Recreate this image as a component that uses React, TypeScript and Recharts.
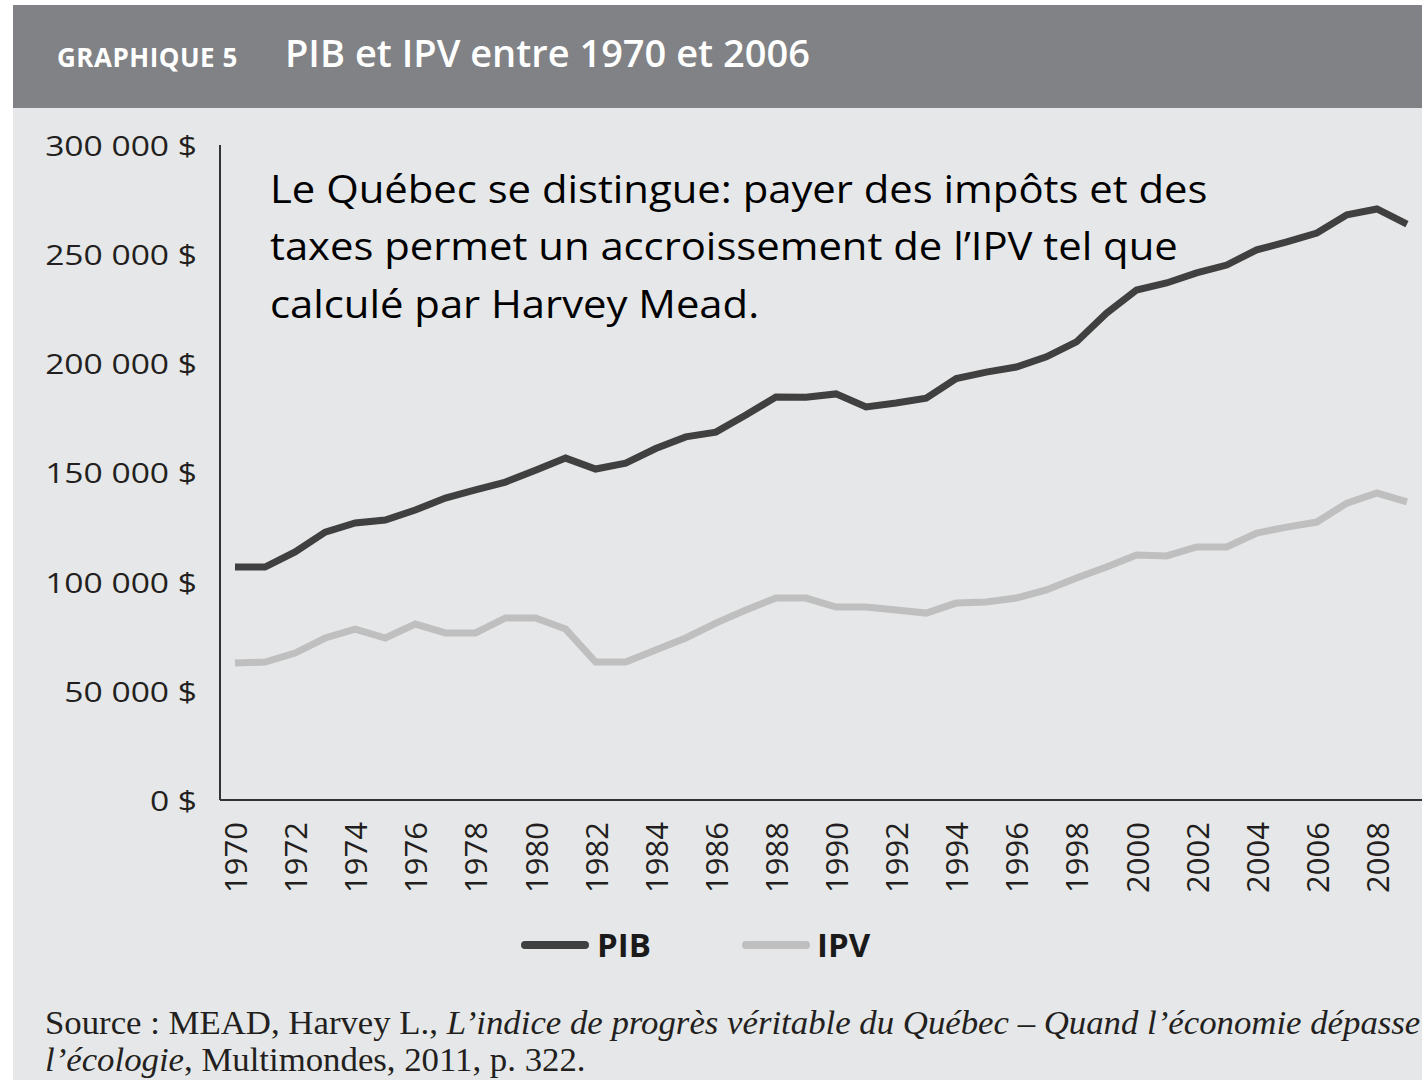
import React from 'react';
import { CartesianGrid, Line, LineChart, XAxis, YAxis } from 'recharts';

const years = [
  '1970', '1971', '1972', '1973', '1974', '1975', '1976', '1977', '1978', '1979',
  '1980', '1981', '1982', '1983', '1984', '1985', '1986', '1987', '1988', '1989',
  '1990', '1991', '1992', '1993', '1994', '1995', '1996', '1997', '1998', '1999',
  '2000', '2001', '2002', '2003', '2004', '2005', '2006', '2007', '2008', '2009'
];

const pib = [
  106700, 106700, 113600, 122700, 126900, 128200, 132800, 138300, 142000, 145600,
  151000, 156600, 151600, 154300, 161000, 166300, 168500, 176300, 184600, 184500,
  186000, 180000, 181800, 184000, 193000, 196000, 198300, 203000, 209800, 223000,
  233600, 236800, 241400, 245000, 252000, 255600, 259700, 268000, 270700, 263800
];

const ipv = [
  62700, 63200, 67300, 74200, 78300, 74200, 80600, 76500, 76500, 83400,
  83400, 78300, 63200, 63200, 68700, 74200, 81000, 87000, 92500, 92500,
  88400, 88400, 87000, 85600, 90200, 90700, 92500, 96200, 101700, 106700,
  112200, 111800, 115900, 115900, 122300, 125000, 127300, 136000, 140600, 136500
];

const yTicks = [0, 50000, 100000, 150000, 200000, 250000, 300000];

const data = years.map((year, i) => ({ year, PIB: pib[i], IPV: ipv[i] }));

const formatDollars = (v: number) => String(v).replace(/\B(?=(\d{3})+(?!\d))/g, ' ') + ' $';

const YTick = (props: any) => {
  const { x, y, payload } = props;
  return (
    <g transform={`translate(${x},${y}) scale(1.2,1)`}>
      <text x={0} y={0} textAnchor="end" dominantBaseline="central" fontSize={28} fill="#231f20" fontFamily="Open Sans">
        {formatDollars(payload.value)}
      </text>
    </g>
  );
};

const XTick = (props: any) => {
  const { x, y, payload } = props;
  return (
    <g transform={`translate(${x},${y}) rotate(-90)`}>
      <text x={0} y={0} textAnchor="end" dominantBaseline="central" fontSize={31} fill="#231f20" fontFamily="Open Sans">
        {payload.value}
      </text>
    </g>
  );
};

export default function App() {
  return (
    <div style={{ position: 'absolute', left: 0, top: 0, width: 1422, height: 1080, background: '#ffffff', overflow: 'hidden' }}>
      <svg width={1422} height={1080} style={{ position: 'absolute', left: 0, top: 0 }}>
        <rect x={13} y={5} width={1409} height={103} fill="#808285" />
        <rect x={13} y={108} width={1409} height={972} fill="#e6e7e8" />
        <text x={57} y={67} fontFamily="Open Sans" fontWeight={700} fontSize={26} fill="#ffffff" letterSpacing={0.5}>
          GRAPHIQUE 5
        </text>
        <text x={285} y={67} fontFamily="Open Sans" fontWeight={600} fontSize={38} fill="#ffffff">
          PIB et IPV entre 1970 et 2006
        </text>

        <g transform="translate(270,0) scale(1.1,1)" fontFamily="Open Sans" fontSize={38} fill="#000000">
          <text x={0} y={203}>Le Québec se distingue: payer des impôts et des</text>
          <text x={0} y={260}>taxes permet un accroissement de l’IPV tel que</text>
          <text x={0} y={318}>calculé par Harvey Mead.</text>
        </g>

        <line x1={525} y1={945} x2={585} y2={945} stroke="#404040" strokeWidth={8} strokeLinecap="round" />
        <text x={597} y={957} fontFamily="Open Sans" fontWeight={700} fontSize={33} fill="#1a1a1a">PIB</text>
        <line x1={746} y1={945} x2={806} y2={945} stroke="#bfbfbf" strokeWidth={8} strokeLinecap="round" />
        <text x={817} y={957} fontFamily="Open Sans" fontWeight={700} fontSize={33} fill="#1a1a1a">IPV</text>

        <g transform="translate(45,0) scale(1.054,1)" fontFamily="Liberation Serif" fontSize={33} fill="#231f20">
          <text x={0} y={1034}>
            Source : MEAD, Harvey L., <tspan fontStyle="italic">L’indice de progrès véritable du Québec – Quand l’économie dépasse</tspan>
          </text>
          <text x={0} y={1071}>
            <tspan fontStyle="italic">l’écologie</tspan>, Multimondes, 2011, p. 322.
          </text>
        </g>
      </svg>

      <div style={{ position: 'absolute', left: 0, top: 0 }}>
        <LineChart width={1422} height={960} data={data} margin={{ top: 145, right: 0, left: 0, bottom: 60 }}>
          <CartesianGrid horizontal={false} vertical={false} />
          <XAxis
            dataKey="year"
            height={100}
            interval={1}
            padding={{ left: 15, right: 15 }}
            tickSize={0}
            tickMargin={22}
            tick={<XTick />}
            axisLine={{ stroke: '#333333', strokeWidth: 2 }}
          />
          <YAxis
            width={220}
            domain={[0, 300000]}
            ticks={yTicks}
            tickSize={0}
            tickMargin={23}
            tick={<YTick />}
            axisLine={{ stroke: '#333333', strokeWidth: 2 }}
          />
          <Line type="linear" dataKey="IPV" stroke="#bfbfbf" strokeWidth={7} dot={false} isAnimationActive={false} />
          <Line type="linear" dataKey="PIB" stroke="#404040" strokeWidth={7} dot={false} isAnimationActive={false} />
        </LineChart>
      </div>
    </div>
  );
}
